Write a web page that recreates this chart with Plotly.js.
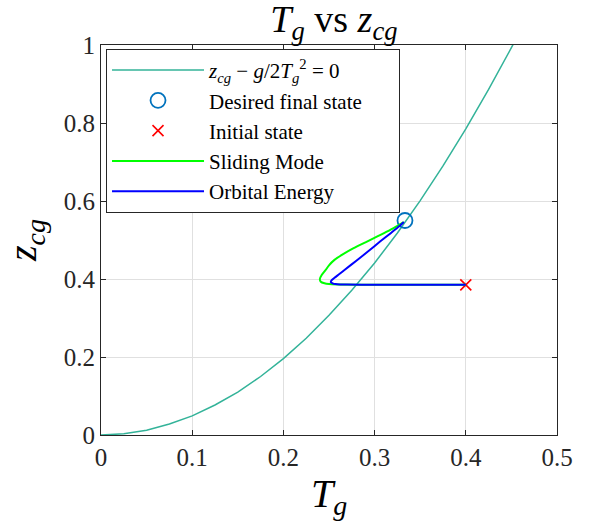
<!DOCTYPE html>
<html>
<head>
<meta charset="utf-8">
<script src="https://cdn.plot.ly/plotly-3.0.1.min.js"></script>
<style>html,body{margin:0;padding:0;background:#fff;}#chart{width:590px;height:531px;}</style>
</head>
<body>
<div id="chart"></div>
<script>
// Boundary curve z_cg - g/2 T_g^2 = 0
const curveT = [0, 0.025, 0.05, 0.075, 0.1, 0.125, 0.15, 0.175, 0.2, 0.225, 0.25, 0.275, 0.3, 0.325, 0.35, 0.375, 0.4, 0.425, 0.45, 0.46];
const curveZ = [0, 0.003, 0.012, 0.028, 0.049, 0.077, 0.110, 0.150, 0.196, 0.248, 0.307, 0.371, 0.441, 0.518, 0.601, 0.690, 0.785, 0.886, 0.993, 1.038];

// Markers
const finalT = [0.3333];
const finalZ = [0.55];
const initT = [0.4];
const initZ = [0.385];

// Sliding mode trajectory
const slideT = [0.4, 0.3, 0.26, 0.25, 0.245, 0.241, 0.240, 0.242, 0.246, 0.250, 0.256, 0.265, 0.277, 0.290, 0.302, 0.314, 0.324, 0.332];
const slideZ = [0.385, 0.385, 0.386, 0.387, 0.389, 0.393, 0.400, 0.410, 0.422, 0.435, 0.449, 0.463, 0.479, 0.494, 0.508, 0.522, 0.535, 0.546];

// Orbital energy trajectory
const orbT = [0.4, 0.35, 0.3, 0.27, 0.262, 0.257, 0.254, 0.252, 0.253, 0.256, 0.261, 0.268, 0.280, 0.293, 0.306, 0.318, 0.327, 0.332];
const orbZ = [0.385, 0.385, 0.385, 0.386, 0.386, 0.387, 0.389, 0.392, 0.397, 0.403, 0.412, 0.425, 0.447, 0.471, 0.496, 0.518, 0.535, 0.546];

// Tick labels
const xTicks = [0, 0.1, 0.2, 0.3, 0.4, 0.5];
const xTickText = ['0', '0.1', '0.2', '0.3', '0.4', '0.5'];
const yTicks = [0, 0.2, 0.4, 0.6, 0.8, 1];
const yTickText = ['0', '0.2', '0.4', '0.6', '0.8', '1'];

const serif = 'Liberation Serif';
const pad = '\u00A0\u00A0\u00A0\u00A0\u00A0\u00A0';

const traces = [
  {x: curveT, y: curveZ, mode: 'lines', line: {color: '#33b399', width: 1.5},
   name: '<i>z</i><sub><i>cg</i></sub> − <i>g</i>/2<i>T</i><sub><i>g</i></sub><sup>2</sup> = 0'},
  {x: finalT, y: finalZ, mode: 'markers', marker: {symbol: 'circle-open', size: 15, color: '#0072BD', line: {width: 1.8}},
   name: 'Desired final state' + pad},
  {x: initT, y: initZ, mode: 'markers', marker: {symbol: 'x-thin-open', size: 11, color: '#ff0000', line: {width: 1.6, color: '#ff0000'}},
   name: 'Initial state'},
  {x: slideT, y: slideZ, mode: 'lines', line: {color: '#00ff00', width: 2, shape: 'spline', smoothing: 0.6}, name: 'Sliding Mode'},
  {x: orbT, y: orbZ, mode: 'lines', line: {color: '#0000ff', width: 2, shape: 'spline', smoothing: 0.6}, name: 'Orbital Energy'}
];

const axisCommon = {
  showline: true, mirror: 'ticks', linecolor: '#262626', linewidth: 1,
  ticks: 'inside', ticklen: 5, tickcolor: '#262626', tickwidth: 1,
  showgrid: true, gridcolor: '#e0e0e0', gridwidth: 1, zeroline: false,
  tickfont: {family: serif, size: 25, color: '#262626'}
};

const layout = {
  width: 590, height: 531,
  margin: {l: 101, r: 33, t: 45, b: 96},
  paper_bgcolor: '#fff', plot_bgcolor: '#fff',
  font: {family: serif, color: '#000'},
  title: {text: '<i>T</i><sub><i>g</i></sub> vs <i>z</i><sub><i>cg</i></sub>', font: {family: serif, size: 38, color: '#000'},
          x: 0.566, xanchor: 'center', y: 0.99, yanchor: 'top'},
  xaxis: Object.assign({}, axisCommon, {
    range: [0, 0.5], tickvals: xTicks, ticktext: xTickText,
    title: {text: '<i>T</i><sub><i>g</i></sub>', font: {family: serif, size: 40, color: '#000'}, standoff: 8}
  }),
  yaxis: Object.assign({}, axisCommon, {
    range: [0, 1], tickvals: yTicks, ticktext: yTickText,
    title: {text: '<i>z</i><sub><i>cg</i></sub>', font: {family: serif, size: 40, color: '#000'}, standoff: 14}
  }),
  legend: {x: 0.011, y: 0.99, xanchor: 'left', yanchor: 'top', bgcolor: '#fff', bordercolor: '#262626', borderwidth: 1,
           font: {family: serif, size: 21, color: '#000'}, itemwidth: 92, tracegroupgap: 0},
  showlegend: true
};

Plotly.newPlot('chart', traces, layout, {displayModeBar: false, staticPlot: true});
</script>
</body>
</html>
